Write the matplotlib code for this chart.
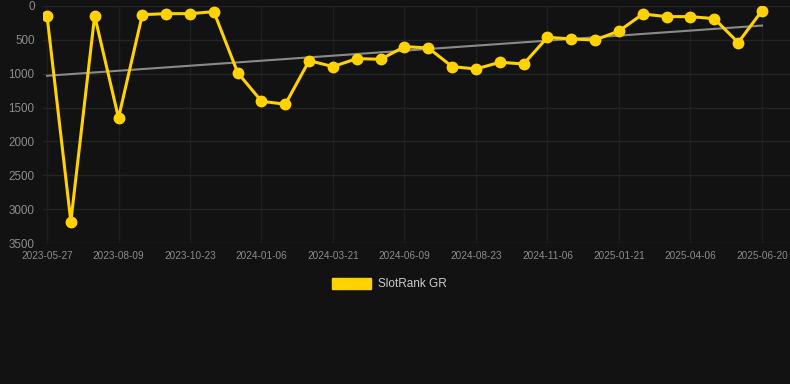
import numpy as np
import matplotlib.pyplot as plt

plt.rcParams['font.family'] = ['Liberation Sans', 'DejaVu Sans']

# rank values, one point per snapshot (lower is better)
ranks = [143, 3183, 143, 1653, 128, 113, 113, 84, 984, 1407, 1451,
         807, 895, 777, 787, 600, 620, 895, 930, 831, 856, 462,
         487, 502, 369, 118, 157, 157, 187, 541, 69]
tick_labels = ['2023-05-27', '2023-08-09', '2023-10-23', '2024-01-06',
               '2024-03-21', '2024-06-09', '2024-08-23', '2024-11-06',
               '2025-01-21', '2025-04-06', '2025-06-20']
series_name = 'SlotRank GR'

bg = '#121212'
gold = '#FFD200'

x = np.arange(len(ranks))
slope, icept = np.polyfit(x, ranks, 1)

fig = plt.figure(figsize=(7.9, 3.84), dpi=100, facecolor=bg)
ax = fig.add_axes([43 / 790, 141 / 384, 747 / 790, 237 / 384], facecolor=bg)

ax.plot(x, slope * x + icept, color='#8a8a8a', lw=1.5, zorder=2)
ax.plot(x, ranks, color=gold, lw=2.2, marker='o', ms=7.5,
        solid_joinstyle='miter', zorder=3, label=series_name)

ax.set_ylim(3500, 0)
ax.set_xlim(-4 / 23.83, 30 + 28 / 23.83)
ax.set_yticks(range(0, 3501, 500))
ax.set_xticks(x[::3])
ax.set_xticklabels(tick_labels)
ax.tick_params(axis='y', length=0, pad=6, labelsize=8.4, labelcolor='#8c8c8c')
ax.tick_params(axis='x', length=0, pad=6, labelsize=7.2, labelcolor='#8c8c8c')
ax.grid(True, axis='y', color='#242424', lw=1)
ax.grid(True, axis='x', color='#1e1e1e', lw=1)
for s in ax.spines.values():
    s.set_visible(False)

handle = plt.Rectangle((0, 0), 1, 1, color=gold)
fig.legend([handle], [series_name], loc='center', bbox_to_anchor=(389 / 790, 1 - 284 / 384),
           frameon=False, fontsize=8.5, labelcolor='#cccccc',
           handlelength=3.3, handleheight=1.1, handletextpad=0.6)

fig.savefig('out.png', dpi=100, facecolor=bg)
